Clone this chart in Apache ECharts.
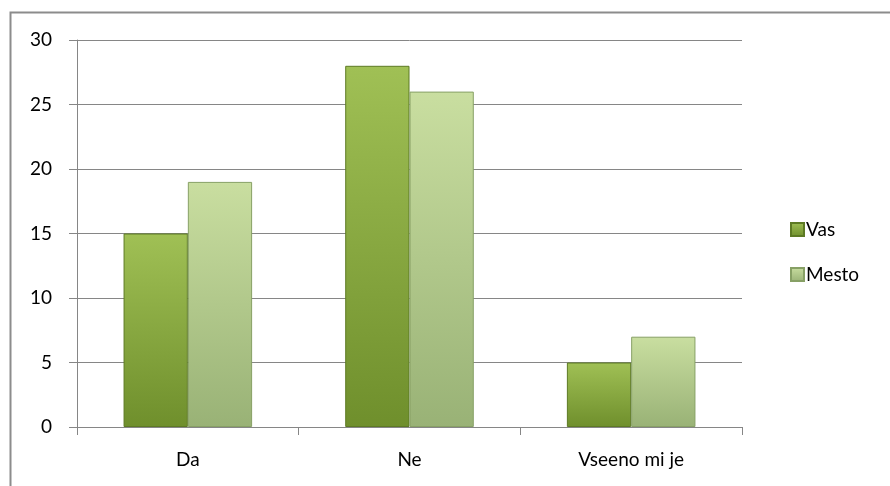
<!DOCTYPE html>
<html>
<head>
<meta charset="utf-8">
<style>html,body{margin:0;padding:0;background:#fff;}#c{width:890px;height:486px;}</style>
<script src="https://cdn.jsdelivr.net/npm/echarts@6/dist/echarts.min.js"></script>
</head>
<body>
<div id="c"></div>
<script>
var categories = ['Da', 'Ne', 'Vseeno mi je'];
var vasValues = [15, 28, 5];
var mestoValues = [19, 26, 7];
var seriesNames = ['Vas', 'Mesto'];

var chart = echarts.init(document.getElementById('c'));
var font = 'Lato, "Open Sans", sans-serif';
function grad(top, bottom) {
  return new echarts.graphic.LinearGradient(0, 0, 0, 1, [
    {offset: 0, color: top}, {offset: 1, color: bottom}
  ]);
}
chart.setOption({
  animation: false,
  backgroundColor: '#fff',
  graphic: [{
    type: 'rect', left: 8, top: 10, silent: true, z: -1,
    shape: {width: 1000, height: 1000},
    style: {fill: 'none', stroke: '#8c8c8c', lineWidth: 2}
  }],
  grid: {left: 77, right: 148, top: 40, bottom: 59},
  legend: {
    orient: 'vertical', left: 785, top: 215,
    icon: 'rect',
    itemWidth: 13, itemHeight: 13, itemGap: 26,
    textStyle: {fontFamily: font, fontSize: 19, color: '#000', padding: [0, 0, 0, -3]},
    data: seriesNames
  },
  xAxis: {
    type: 'category', data: categories,
    axisLine: {lineStyle: {color: '#868686', width: 1}},
    axisTick: {show: true, length: 8, lineStyle: {color: '#868686'}},
    axisLabel: {fontFamily: font, fontSize: 19, color: '#000', margin: 23}
  },
  yAxis: {
    type: 'value', min: 0, max: 30, interval: 5,
    axisLine: {show: true, lineStyle: {color: '#868686', width: 1}},
    axisTick: {show: true, length: 8, lineStyle: {color: '#868686'}},
    splitLine: {lineStyle: {color: '#868686', width: 1}},
    axisLabel: {fontFamily: font, fontSize: 19, color: '#000', margin: 25}
  },
  series: [{
    name: seriesNames[0], type: 'bar', data: vasValues,
    barGap: '0%', barCategoryGap: '42%',
    itemStyle: {color: grad('#a0c055', '#6f8f2c'), borderColor: '#5d7a24', borderWidth: 1}
  }, {
    name: seriesNames[1], type: 'bar', data: mestoValues,
    itemStyle: {color: grad('#c9dea0', '#99b276'), borderColor: '#87a065', borderWidth: 1}
  }]
});
</script>
</body>
</html>
